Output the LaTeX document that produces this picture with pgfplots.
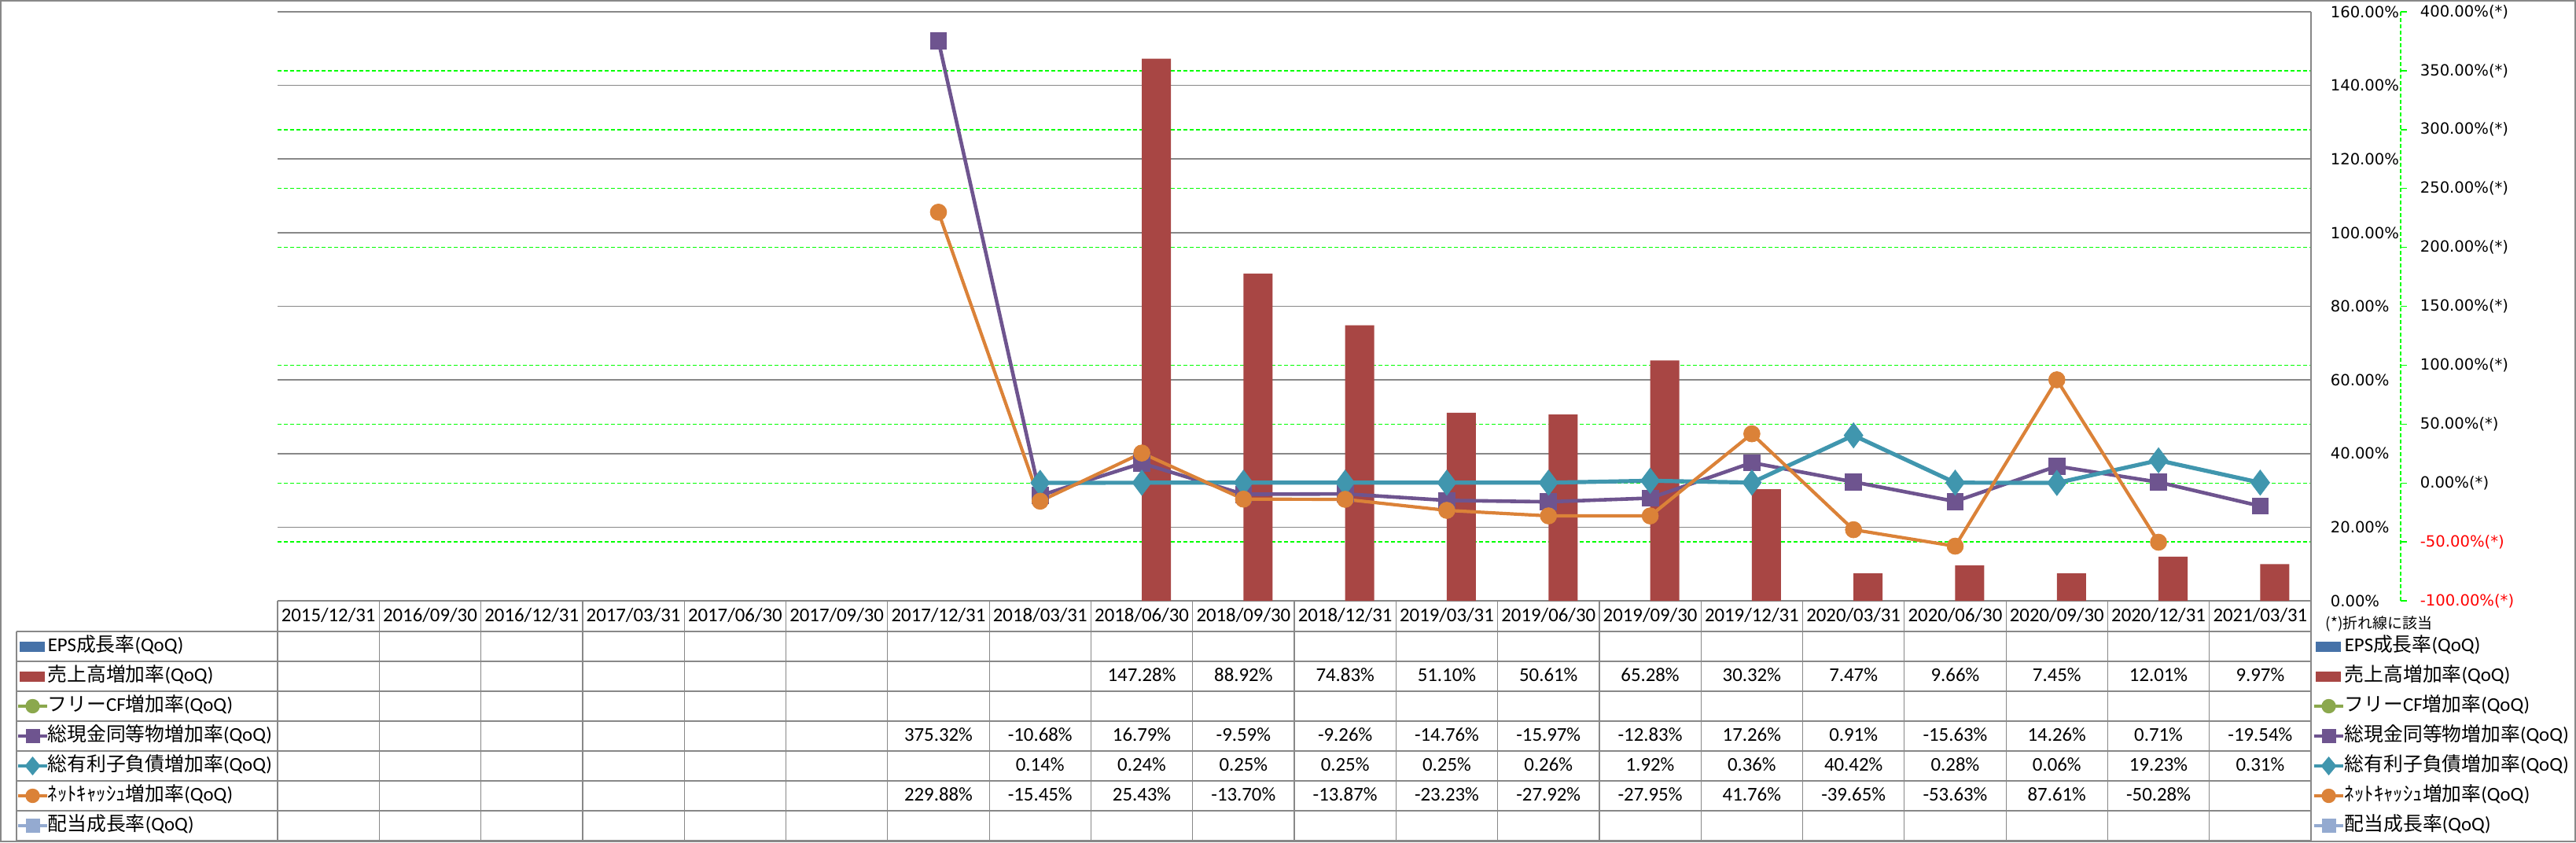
\documentclass[border=0pt]{standalone}
\usepackage{pgfplots}
\pgfplotsset{compat=1.18}
\usepackage{fontspec}
\setmainfont{Carlito}
\newfontfamily\jp{Noto Sans CJK JP}
\newfontfamily\axfont{DejaVu Sans}

\definecolor{salesred}{HTML}{A84644}
\definecolor{epsblue}{HTML}{4672A8}
\definecolor{cfgreen}{HTML}{8BA84D}
\definecolor{cashpurple}{HTML}{6E548F}
\definecolor{debtteal}{HTML}{4096AE}
\definecolor{netorange}{HTML}{DB8238}
\definecolor{divblue}{HTML}{94AAD0}
\definecolor{gridgray}{HTML}{888888}
\definecolor{xlgreen}{HTML}{00FF00}

\pgfplotsset{
  base/.style={
    at={(88.25pt,-191pt)}, anchor=south west,
    width=646.5pt, height=187.25pt, scale only axis,
    xmin=-0.5, xmax=19.5, xtick=\empty,
    major tick length=0pt,
    /pgf/number format/assume math mode=true,
    yticklabel style={font=\axfont\fontsize{4.9}{6}\selectfont, anchor=west, inner sep=0pt},
    clip=false,
  }
}

\newcommand\tfont{\fontsize{6.2}{7}\selectfont}
\tikzset{cell/.style={inner sep=0pt, text height=4.3pt, text depth=0.9pt, font=\tfont}}

% legend keys (px coordinates, y downwards)
\newcommand\barkey[3]{\fill[#1] ({#2},{#3-6.5}) rectangle ({#2+32},{#3+6.5});}
\newcommand\linekey[3]{\draw[#1, line width=1pt] ({#2},#3) -- ({#2+37},#3);}

\begin{document}
\begin{tikzpicture}
\useasboundingbox (0,0) rectangle (819pt,-267.75pt);

% secondary scale: green grid and labels
\begin{axis}[base, ymin=-100, ymax=400, ytick distance=50, ymajorgrids,
  major grid style={xlgreen, line width=0.35pt, dash pattern=on 1.3pt off 0.7pt},
  axis line style={draw=none}, yticklabel pos=right,
  yticklabel style={xshift=34.5pt},
  yticklabel={\ifdim\tick pt<0pt\color{red}\fi\pgfmathprintnumber[fixed,fixed zerofill,precision=2]{\tick}\%(*)}]
\end{axis}

% bars on primary scale
\begin{axis}[base, ymin=0, ymax=160, ytick distance=20, ymajorgrids,
  major grid style={gridgray, line width=0.4pt},
  axis x line*=bottom, axis y line*=right,
  axis line style={gridgray, line width=0.4pt, -},
  yticklabel style={xshift=6pt},
  yticklabel={\pgfmathprintnumber[fixed,fixed zerofill,precision=2]{\tick}\%},
  ybar, bar width=9.25pt, bar shift=4.625pt]
\addplot[fill=salesred, draw=none] coordinates {
  (8,147.28) (9,88.92) (10,74.83) (11,51.10) (12,50.61) (13,65.28)
  (14,30.32) (15,7.47) (16,9.66) (17,7.45) (18,12.01) (19,9.97)};
\end{axis}

% lines on secondary scale
\begin{axis}[base, ymin=-100, ymax=400, hide axis]
\addplot[cashpurple, line width=1.15pt, mark=square*, mark size=2.6pt,
  mark options={solid, line width=0.2pt}] coordinates {
  (6,375.32) (7,-10.68) (8,16.79) (9,-9.59) (10,-9.26) (11,-14.76) (12,-15.97)
  (13,-12.83) (14,17.26) (15,0.91) (16,-15.63) (17,14.26) (18,0.71) (19,-19.54)};
\addplot[debtteal, line width=1.3pt, mark=diamond*, mark size=4pt,
  mark options={solid, line width=0.2pt}] coordinates {
  (7,0.14) (8,0.24) (9,0.25) (10,0.25) (11,0.25) (12,0.26) (13,1.92)
  (14,0.36) (15,40.42) (16,0.28) (17,0.06) (18,19.23) (19,0.31)};
\addplot[netorange, line width=1.05pt, mark=*, mark size=2.6pt,
  mark options={solid, line width=0.2pt}] coordinates {
  (6,229.88) (7,-15.45) (8,25.43) (9,-13.70) (10,-13.87) (11,-23.23) (12,-27.92)
  (13,-27.95) (14,41.76) (15,-39.65) (16,-53.63) (17,87.61) (18,-50.28)};
\end{axis}

\begin{scope}[x=0.25pt, y=-0.25pt]
% outer frame
\draw[gridgray, line width=0.5pt] (1,1) rectangle (3275,1070);
% secondary axis line with ticks
\draw[xlgreen, line width=0.35pt, dash pattern=on 1.3pt off 0.7pt] (3053,15) -- (3053,764);
\foreach \v in {-100,-50,...,400}
  \draw[xlgreen, line width=0.35pt] (3053,{764-(\v+100)*1.498}) -- ++(8,0);

% data table grid
\foreach \k in {0,...,20}
  \draw[gridgray, line width=0.3pt] ({353+\k*129.3},764) -- ({353+\k*129.3},1069);
\foreach \yy in {803,841,879,917,955,993,1031,1069}
  \draw[gridgray, line width=0.3pt] (21,\yy) -- (2939,\yy);
\draw[gridgray, line width=0.3pt] (21,803) -- (21,1069);
\draw[gridgray, line width=0.4pt] (2939,764) -- (2939,1069);

% header dates
\foreach \d [count=\k from 0] in {{2015/12/31},{2016/09/30},{2016/12/31},{2017/03/31},
  {2017/06/30},{2017/09/30},{2017/12/31},{2018/03/31},{2018/06/30},{2018/09/30},
  {2018/12/31},{2019/03/31},{2019/06/30},{2019/09/30},{2019/12/31},{2020/03/31},
  {2020/06/30},{2020/09/30},{2020/12/31},{2021/03/31}}
  \node[cell] at ({353+(\k+0.5)*129.3},784) {\d};

% table values
\foreach \i/\t in {8/147.28,9/88.92,10/74.83,11/51.10,12/50.61,13/65.28,14/30.32,
  15/7.47,16/9.66,17/7.45,18/12.01,19/9.97}
  \node[cell] at ({353+(\i+0.5)*129.3},860) {\t\%};
\foreach \i/\t in {6/375.32,7/-10.68,8/16.79,9/-9.59,10/-9.26,11/-14.76,12/-15.97,
  13/-12.83,14/17.26,15/0.91,16/-15.63,17/14.26,18/0.71,19/-19.54}
  \node[cell] at ({353+(\i+0.5)*129.3},936) {\t\%};
\foreach \i/\t in {7/0.14,8/0.24,9/0.25,10/0.25,11/0.25,12/0.26,13/1.92,
  14/0.36,15/40.42,16/0.28,17/0.06,18/19.23,19/0.31}
  \node[cell] at ({353+(\i+0.5)*129.3},974) {\t\%};
\foreach \i/\t in {6/229.88,7/-15.45,8/25.43,9/-13.70,10/-13.87,11/-23.23,12/-27.92,
  13/-27.95,14/41.76,15/-39.65,16/-53.63,17/87.61,18/-50.28}
  \node[cell] at ({353+(\i+0.5)*129.3},1012) {\t\%};

% series names, left of the table and in the legend on the right
\foreach \kx/\tx in {23/60,2943/2981}{
  \barkey{epsblue}{\kx+2}{822}
  \barkey{salesred}{\kx+2}{860}
  \linekey{cfgreen}{\kx}{898}
  \fill[cfgreen] ({\kx+18.5},898) circle (2.3pt);
  \linekey{cashpurple}{\kx}{936}
  \fill[cashpurple] ({\kx+18.5-9},927) rectangle ({\kx+18.5+9},945);
  \linekey{debtteal}{\kx}{974}
  \fill[debtteal] ({\kx+18.5-10},974) -- ({\kx+18.5},962) -- ({\kx+18.5+10},974) -- ({\kx+18.5},986) -- cycle;
  \linekey{netorange}{\kx}{1012}
  \fill[netorange] ({\kx+18.5},1012) circle (2.3pt);
  \linekey{divblue}{\kx}{1050}
  \fill[divblue] ({\kx+18.5-9},1041) rectangle ({\kx+18.5+9},1059);
  \node[cell, anchor=west] at (\tx,822) {EPS{\jp 成長率}(QoQ)};
  \node[cell, anchor=west] at (\tx,860) {{\jp 売上高増加率}(QoQ)};
  \node[cell, anchor=west] at (\tx,898) {{\jp フリー}CF{\jp 増加率}(QoQ)};
  \node[cell, anchor=west] at (\tx,936) {{\jp 総現金同等物増加率}(QoQ)};
  \node[cell, anchor=west] at (\tx,974) {{\jp 総有利子負債増加率}(QoQ)};
  \node[cell, anchor=west] at (\tx,1012) {{\jp ﾈｯﾄｷｬｯｼｭ増加率}(QoQ)};
  \node[cell, anchor=west] at (\tx,1050) {{\jp 配当成長率}(QoQ)};
}
\node[inner sep=0pt, anchor=west, font=\jp\fontsize{4.75}{5}\selectfont] at (2957,793) {(*)折れ線に該当};
\end{scope}
\end{tikzpicture}
\end{document}
